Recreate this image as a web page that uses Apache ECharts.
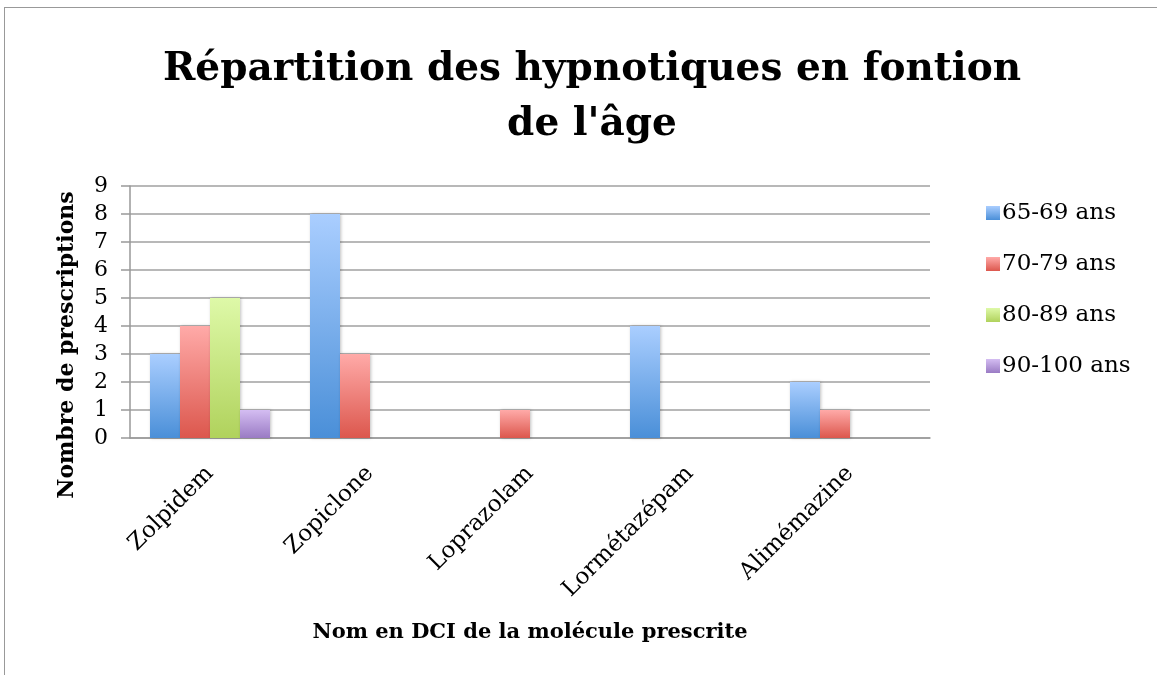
<!DOCTYPE html>
<html>
<head>
<meta charset="utf-8">
<script src="https://cdn.jsdelivr.net/npm/echarts@6/dist/echarts.min.js"></script>
<style>
    html, body { margin: 0; padding: 0; background: #fff; }
    #frame { position: absolute; left: 4px; top: 7px; width: 1170px; height: 680px; border: 1px solid #999; box-sizing: border-box; }
    #chart { position: absolute; left: 0; top: 0; width: 1157px; height: 675px; }
</style>
</head>
<body>
<div id="frame"></div>
<div id="chart"></div>
<script>
    const categories = ['Zolpidem', 'Zopiclone', 'Loprazolam', 'Lormétazépam', 'Alimémazine'];
    const seriesNames = ['65-69 ans', '70-79 ans', '80-89 ans', '90-100 ans'];
    const age65 = [3, 8, null, 4, 2];
    const age70 = [4, 3, 1, null, 1];
    const age80 = [5, null, null, null, null];
    const age90 = [1, null, null, null, null];
    const yTicks = [0, 1, 2, 3, 4, 5, 6, 7, 8, 9];

    const colors = [
        ['#aaceff', '#4a8fd8'],
        ['#ffaaa8', '#dc574d'],
        ['#def9a8', '#b0d25c'],
        ['#d4bdf2', '#9a7bc4']
    ];

    function grad(c) {
        return new echarts.graphic.LinearGradient(0, 0, 0, 1, [
            {offset: 0, color: c[0]},
            {offset: 1, color: c[1]}
        ]);
    }

    const serif = '"DejaVu Serif", "Liberation Serif", serif';
    const chart = echarts.init(document.getElementById('chart'));

    const data = [age65, age70, age80, age90];
    const series = seriesNames.map((name, i) => ({
        name: name,
        type: 'bar',
        data: data[i],
        barGap: '0%',
        barCategoryGap: '25%',
        itemStyle: {
            color: grad(colors[i]),
            shadowColor: 'rgba(0,0,0,0.25)',
            shadowBlur: 3,
            shadowOffsetX: 1
        }
    }));

    chart.setOption({
        animation: false,
        title: {
            text: "Répartition des hypnotiques en fontion\nde l'âge",
            left: 587,
            textAlign: 'center',
            top: 37,
            textStyle: {
                fontFamily: serif,
                fontWeight: 'bold',
                fontSize: 39,
                lineHeight: 55,
                color: '#000'
            }
        },
        legend: {
            orient: 'vertical',
            left: 981,
            top: 196,
            itemWidth: 14,
            itemHeight: 14,
            itemGap: 27,
            icon: 'rect',
            textStyle: {fontFamily: serif, fontSize: 23, lineHeight: 24, color: '#000', padding: [0, 0, 0, -3]},
            data: seriesNames
        },
        grid: {
            left: 130,
            right: 227,
            top: 186,
            bottom: 237,
            containLabel: false
        },
        xAxis: {
            type: 'category',
            data: categories,
            name: 'Nom en DCI de la molécule prescrite',
            nameLocation: 'middle',
            nameGap: 184,
            nameTextStyle: {fontFamily: serif, fontWeight: 'bold', fontSize: 21, color: '#000'},
            axisLine: {lineStyle: {color: '#999', width: 1.5}},
            axisTick: {show: false},
            axisLabel: {
                rotate: 45,
                fontFamily: serif,
                fontSize: 23,
                color: '#000',
                margin: 32
            }
        },
        yAxis: {
            type: 'value',
            min: 0,
            max: 9,
            interval: 1,
            name: 'Nombre de prescriptions',
            nameLocation: 'middle',
            nameGap: 52,
            nameTextStyle: {fontFamily: serif, fontWeight: 'bold', fontSize: 22, color: '#000', padding: [0, 66, 0, 0]},
            axisLine: {show: true, lineStyle: {color: '#999', width: 1.5}},
            axisTick: {show: true, length: 9, lineStyle: {color: '#999', width: 1.5}},
            axisLabel: {
                fontFamily: serif,
                fontSize: 22,
                color: '#000',
                margin: 22,
                formatter: v => yTicks.includes(v) ? String(v) : ''
            },
            splitLine: {lineStyle: {color: '#a0a0a0', width: 1.5}}
        },
        series: series
    });
</script>
</body>
</html>
